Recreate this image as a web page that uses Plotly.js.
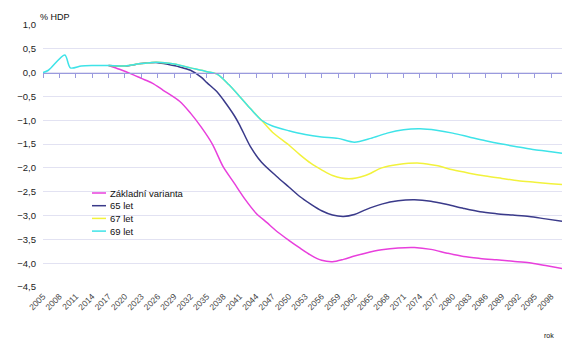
<!DOCTYPE html>
<html>
<head>
<meta charset="utf-8">
<script src="https://cdn.plot.ly/plotly-3.0.1.min.js"></script>
<style>html,body{margin:0;padding:0;background:#fff;}#chart{width:563px;height:340px;}</style>
</head>
<body>
<div id="chart"></div>
<script>
// Series names
var seriesNames = ["Základní varianta", "65 let", "67 let", "69 let"];

// Základní varianta (magenta)
var yearsBase = [2017,2019,2021,2023,2025,2027,2030,2032,2034,2036,2038,2040,2042,2044,2046,2048,2050,2052,2054,2056,2058,2060,2062,2064,2067,2070,2073,2076,2079,2082,2085,2088,2091,2094,2097,2100];
var valsBase  = [0.15,0.07,-0.02,-0.12,-0.22,-0.37,-0.60,-0.85,-1.15,-1.50,-1.98,-2.32,-2.66,-2.95,-3.15,-3.35,-3.52,-3.68,-3.83,-3.94,-3.97,-3.92,-3.85,-3.79,-3.72,-3.68,-3.67,-3.71,-3.79,-3.86,-3.90,-3.93,-3.96,-3.99,-4.05,-4.11];

// 65 let (navy)
var years65 = [2017,2020,2023,2026,2028,2030,2032,2034,2035,2037,2038,2040,2041,2043,2045,2048,2050,2052,2054,2056,2058,2060,2062,2064,2067,2070,2073,2076,2079,2082,2085,2088,2091,2094,2097,2100];
var vals65  = [0.15,0.14,0.19,0.21,0.17,0.12,0.05,-0.10,-0.21,-0.42,-0.57,-0.90,-1.10,-1.56,-1.88,-2.20,-2.40,-2.60,-2.76,-2.90,-2.99,-3.02,-2.98,-2.88,-2.76,-2.69,-2.67,-2.70,-2.77,-2.85,-2.92,-2.96,-2.99,-3.02,-3.07,-3.12];

// 67 let (yellow)
var years67 = [2017,2020,2023,2026,2029,2032,2035,2037,2039,2041,2043,2045,2047,2050,2052,2054,2056,2058,2061,2064,2067,2070,2074,2077,2080,2083,2086,2089,2092,2095,2098,2100];
var vals67  = [0.15,0.14,0.19,0.22,0.18,0.10,0.02,-0.04,-0.25,-0.50,-0.76,-1.00,-1.25,-1.52,-1.72,-1.90,-2.04,-2.16,-2.23,-2.16,-2.00,-1.93,-1.90,-1.95,-2.04,-2.11,-2.17,-2.22,-2.27,-2.30,-2.33,-2.35];

// 69 let (cyan)
var years69 = [2005,2006,2009,2010,2012,2014,2017,2020,2023,2026,2029,2032,2035,2037,2039,2041,2043,2045,2047,2050,2053,2056,2059,2062,2065,2068,2071,2074,2077,2080,2083,2086,2089,2092,2095,2098,2100];
var vals69  = [0.00,0.05,0.37,0.10,0.14,0.15,0.15,0.14,0.19,0.22,0.18,0.10,0.02,-0.04,-0.25,-0.50,-0.76,-1.00,-1.12,-1.22,-1.30,-1.35,-1.38,-1.46,-1.38,-1.27,-1.20,-1.18,-1.21,-1.27,-1.35,-1.43,-1.50,-1.56,-1.62,-1.66,-1.69];

// Axis ticks
var xTickYears = [];
for (var yy = 2005; yy <= 2098; yy += 3) xTickYears.push(yy);
var xTickLabels = xTickYears.map(String);
var yTickVals = [1.0,0.5,0.0,-0.5,-1.0,-1.5,-2.0,-2.5,-3.0,-3.5,-4.0,-4.5];

var colors = ["#e83fdc", "#3a3a8a", "#f2f23c", "#3ee3e8"];
var xs = [yearsBase, years65, years67, years69];
var ys = [valsBase, vals65, vals67, vals69];

var traces = [];
for (var i = 0; i < 4; i++) {
  traces.push({
    x: xs[i], y: ys[i], type: "scatter", mode: "lines", name: seriesNames[i],
    line: {color: colors[i], width: 1.5, shape: "spline", smoothing: 0.8},
    showlegend: false, hoverinfo: "skip"
  });
}
// invisible trace on the zero-line axis
traces.push({x: [2005], y: [0], xaxis: "x2", yaxis: "y", mode: "markers", marker: {opacity: 0}, showlegend: false, hoverinfo: "skip"});

var xMin = 2005, xMax = 2100, yMin = -4.5, yMax = 1.0;

// custom compact legend
var shapes = [], annotations = [];
var legTop = 193, legStep = 12.7, plotTop = 25, plotH = 262, plotL = 43, plotW = 519;
for (var j = 0; j < 4; j++) {
  var py = legTop + j * legStep;
  var yp = 1 - (py - plotTop) / plotH;
  shapes.push({type: "line", xref: "paper", yref: "paper",
    x0: (92 - plotL) / plotW, x1: (106 - plotL) / plotW, y0: yp, y1: yp,
    line: {color: colors[j], width: 1.5}});
  annotations.push({xref: "paper", yref: "paper", x: (108 - plotL) / plotW, y: yp,
    xanchor: "left", yanchor: "middle", showarrow: false, text: seriesNames[j],
    font: {family: "Liberation Sans, Arial, sans-serif", size: 9.5, color: "#111"}});
}
annotations.push({xref: "paper", yref: "paper", x: (38 - plotL) / plotW, y: 1 + (25 - 17) / plotH,
  xanchor: "left", yanchor: "middle", showarrow: false, text: "% HDP",
  font: {family: "Liberation Sans, Arial, sans-serif", size: 9, color: "#111"}});
annotations.push({xref: "paper", yref: "paper", x: (556 - plotL) / plotW, y: -(335 - 287) / plotH,
  xanchor: "right", yanchor: "middle", showarrow: false, text: "rok",
  font: {family: "Liberation Sans, Arial, sans-serif", size: 7, color: "#111"}});

var layout = {
  width: 563, height: 340,
  margin: {l: 43, r: 1, t: 25, b: 53, pad: 0},
  paper_bgcolor: "#ffffff", plot_bgcolor: "#ffffff",
  separators: ", ",
  showlegend: false,
  xaxis: {
    range: [xMin, xMax], tickmode: "array", tickvals: xTickYears, ticktext: xTickLabels,
    tickangle: -45, showgrid: false, zeroline: false, showline: false, ticks: "",
    ticklabelstandoff: 2,
    tickfont: {family: "Liberation Sans, Arial, sans-serif", size: 8.5, color: "#444"},
    fixedrange: true
  },
  xaxis2: {
    range: [xMin, xMax], overlaying: "x", anchor: "free",
    position: (0 - yMin) / (yMax - yMin), side: "bottom",
    tickmode: "array", tickvals: xTickYears, showticklabels: false,
    ticks: "outside", ticklen: 4, tickwidth: 1, tickcolor: "#9a9ade",
    showline: true, linecolor: "#9a9ade", linewidth: 1.5, showgrid: false, zeroline: false
  },
  yaxis: {
    range: [yMin, yMax], tickmode: "array", tickvals: yTickVals, tickformat: ".1f",
    showgrid: true, gridcolor: "#e2e2f2", gridwidth: 1, zeroline: false, showline: false,
    ticks: "", ticklabelstandoff: 6,
    tickfont: {family: "Liberation Sans, Arial, sans-serif", size: 9.5, color: "#222"},
    fixedrange: true
  },
  shapes: shapes,
  annotations: annotations
};

Plotly.newPlot("chart", traces, layout, {staticPlot: true, displayModeBar: false});
</script>
</body>
</html>
